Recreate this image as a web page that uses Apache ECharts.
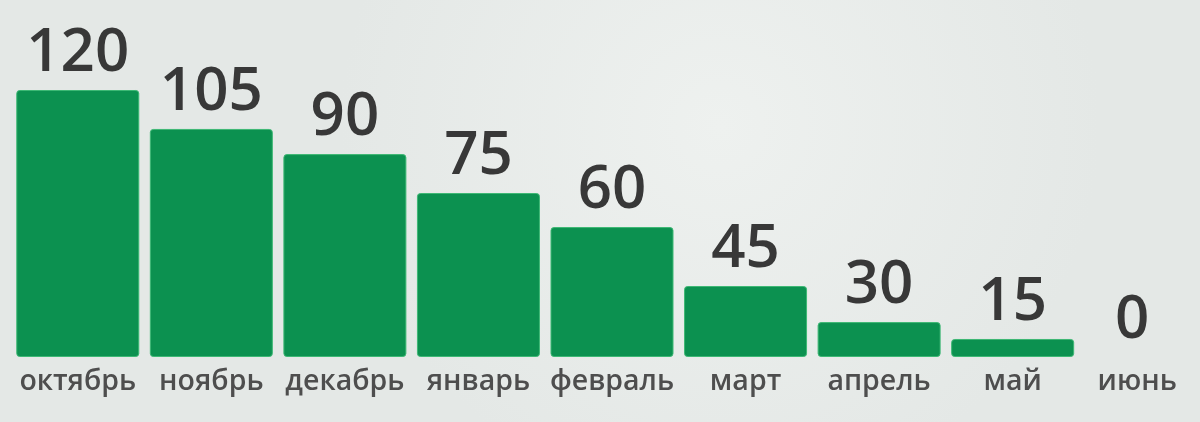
<!DOCTYPE html>
<html><head><meta charset="utf-8">
<script src="https://cdn.jsdelivr.net/npm/echarts@6/dist/echarts.min.js"></script>
<style>html,body{margin:0;padding:0;background:#e9edeb;}#c{width:1200px;height:422px;}</style>
</head><body><div id="c"></div>
<script>
const categories = ['октябрь','ноябрь','декабрь','январь','февраль','март','апрель','май','июнь'];
const labelValues = [120, 105, 90, 75, 60, 45, 30, 15, 0];
// bar lengths as drawn in the picture (same scale as the 120 bar)
const barLengths = [120, 102.5, 91.2, 73.7, 58.4, 31.9, 15.7, 8.1, 0];

const last = categories.length - 1;
const chart = echarts.init(document.getElementById('c'));
chart.setOption({
  backgroundColor: {
    type: 'radial', x: 0.6, y: 0.3, r: 0.9,
    colorStops: [{offset: 0, color: '#eef1ef'}, {offset: 1, color: '#e4e8e6'}]
  },
  animation: false,
  grid: {left: 11, width: 1202, top: 90, bottom: 65, outerBoundsMode: 'none', containLabel: false},
  xAxis: {
    type: 'category',
    data: categories.map((c, i) => i === last ? {value: c, textStyle: {padding: [0, 18, 0, 0]}} : c),
    axisLine: {show: false}, axisTick: {show: false},
    axisLabel: {color: '#4e4e4e', fontSize: 28.5, fontFamily: 'Open Sans', fontWeight: 600, margin: 10, interval: 0}
  },
  yAxis: {type: 'value', min: 0, max: 120, show: false, splitLine: {show: false}},
  series: [{
    type: 'bar',
    data: barLengths.map((v, i) => ({
      value: v,
      itemStyle: {borderWidth: v > 0 ? 1 : 0},
      label: i === last ? {offset: [-14, 0]} : {}
    })),
    barWidth: 123,
    itemStyle: {color: '#0c9150', borderRadius: 3, borderColor: '#3db874'},
    label: {
      show: true, position: 'top', distance: 6,
      formatter: p => String(labelValues[p.dataIndex]),
      color: '#383838', fontSize: 60, fontFamily: 'Open Sans', fontWeight: 600
    }
  }]
});
</script></body></html>
